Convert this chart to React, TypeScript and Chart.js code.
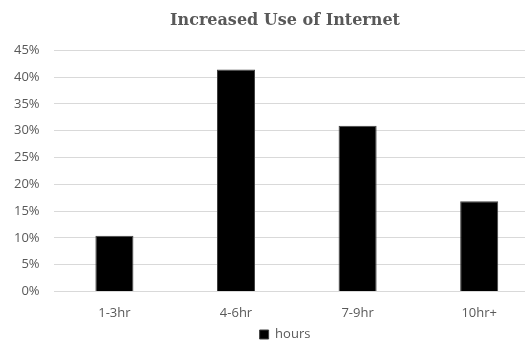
import React, { useEffect, useRef } from "react";
import { Chart, registerables } from "chart.js";

Chart.register(...registerables);

const categories: string[] = ["1-3hr", "4-6hr", "7-9hr", "10hr+"];
const hoursShare: number[] = [10.4, 41.4, 30.9, 16.8];
const seriesName = "hours";
const chartTitle = "Increased Use of Internet";

const textGray = "#595959";
const gridGray = "#d9d9d9";

export default function App() {
  const canvasRef = useRef<HTMLCanvasElement | null>(null);

  useEffect(() => {
    const canvas = canvasRef.current;
    if (!canvas) return;
    const chart = new Chart(canvas, {
      type: "bar",
      data: {
        labels: categories,
        datasets: [
          {
            label: seriesName,
            data: hoursShare,
            backgroundColor: "#000000",
            borderColor: "#404040",
            borderWidth: 1,
            barPercentage: 1,
            categoryPercentage: 0.313,
          },
        ],
      },
      options: {
        animation: false,
        responsive: false,
        maintainAspectRatio: false,
        layout: { padding: { left: 0, right: 0, top: 11, bottom: 0 } },
        plugins: {
          title: {
            display: true,
            text: chartTitle,
            color: textGray,
            font: { family: "'DejaVu Serif', serif", size: 16, weight: "bold" },
            padding: { top: 0, bottom: 20 },
          },
          legend: {
            display: true,
            position: "bottom",
            labels: {
              color: textGray,
              font: { family: "'Open Sans', sans-serif", size: 13 },
              boxWidth: 9,
              boxHeight: 9,
              padding: 1,
            },
          },
          tooltip: { enabled: false },
        },
        scales: {
          x: {
            grid: { display: false },
            border: { display: false },
            ticks: {
              color: textGray,
              font: { family: "'Open Sans', sans-serif", size: 13 },
              padding: 6,
            },
          },
          y: {
            min: 0,
            max: 45,
            border: { display: false },
            grid: { color: gridGray, lineWidth: 1, drawTicks: false },
            ticks: {
              stepSize: 5,
              color: textGray,
              font: { family: "'Open Sans', sans-serif", size: 13 },
              padding: 14,
              callback: (v) => `${v}%`,
            },
          },
          // empty right-hand margin so the title and legend centre on the full chart
          rightMargin: {
            type: "linear",
            position: "right",
            display: true,
            grid: { display: false, drawTicks: false },
            border: { display: false },
            ticks: { display: false },
            afterFit: (scale) => {
              scale.width = 30;
            },
          },
        },
      },
    });
    return () => chart.destroy();
  }, []);

  return (
    <div
      style={{
        position: "fixed",
        left: 0,
        top: 0,
        width: 525,
        height: 340,
        overflow: "hidden",
        background: "#ffffff",
      }}
    >
      <canvas ref={canvasRef} width={570} height={351} style={{ display: "block" }} />
    </div>
  );
}
